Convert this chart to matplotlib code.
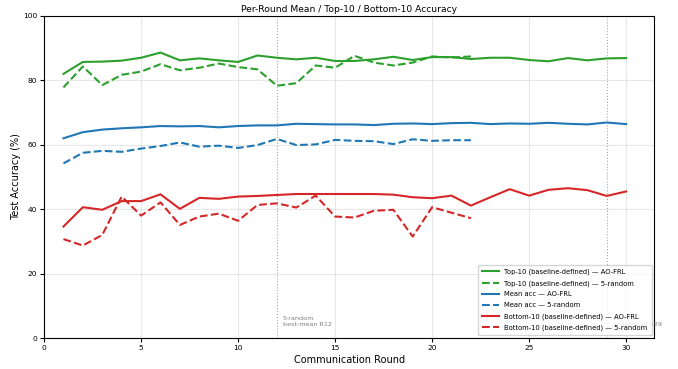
import numpy as np
from matplotlib import pyplot as plt

# per-round accuracies
rounds_aofrl = np.arange(1, 31)
rounds_rand = np.arange(1, 23)

top10_aofrl = [82.0, 85.7, 85.8, 86.1, 87.0, 88.6, 86.2, 86.8, 86.2, 85.7,
               87.7, 87.0, 86.5, 87.0, 86.0, 86.0, 86.5, 87.3, 86.3, 87.2,
               87.2, 86.6, 87.0, 87.0, 86.3, 85.9, 86.9, 86.2, 86.8, 86.9]
top10_rand = [77.8, 84.3, 78.5, 81.7, 82.7, 85.0, 83.1, 83.9, 85.2, 84.1,
              83.4, 78.3, 79.1, 84.6, 83.9, 87.6, 85.5, 84.6, 85.5, 87.4,
              87.1, 87.4]
mean_aofrl = [62.0, 63.9, 64.7, 65.1, 65.4, 65.8, 65.7, 65.8, 65.4, 65.8,
              66.0, 66.0, 66.5, 66.4, 66.3, 66.3, 66.1, 66.5, 66.6, 66.4,
              66.7, 66.8, 66.4, 66.6, 66.5, 66.8, 66.5, 66.3, 66.9, 66.4]
mean_rand = [54.2, 57.5, 58.1, 57.8, 58.8, 59.6, 60.7, 59.4, 59.7, 59.0,
             59.9, 61.8, 59.9, 60.1, 61.5, 61.2, 61.1, 60.2, 61.7, 61.2,
             61.4, 61.4]
bottom10_aofrl = [34.6, 40.6, 39.8, 42.5, 42.5, 44.6, 40.1, 43.5, 43.2, 43.9,
                  44.1, 44.4, 44.7, 44.7, 44.7, 44.7, 44.7, 44.5, 43.7, 43.4,
                  44.2, 41.1, 43.7, 46.2, 44.2, 46.0, 46.5, 45.9, 44.1, 45.5]
bottom10_rand = [30.7, 28.7, 32.0, 43.9, 38.0, 42.1, 35.1, 37.7, 38.6, 36.4,
                 41.3, 41.8, 40.5, 44.2, 37.7, 37.4, 39.5, 39.8, 31.5, 40.6,
                 38.9, 37.2]

best_rand = 12
best_aofrl = 29

fig = plt.figure(figsize=(6.78, 3.69), dpi=100)
ax = fig.add_axes([0.065, 0.084, 0.9, 0.873])

ax.plot(rounds_aofrl, top10_aofrl, color='tab:green', lw=1.5, label='Top-10 (baseline-defined) — AO-FRL')
ax.plot(rounds_rand, top10_rand, color='tab:green', lw=1.5, ls='--', label='Top-10 (baseline-defined) — 5-random')
ax.plot(rounds_aofrl, mean_aofrl, color='tab:blue', lw=1.5, label='Mean acc — AO-FRL')
ax.plot(rounds_rand, mean_rand, color='tab:blue', lw=1.5, ls='--', label='Mean acc — 5-random')
ax.plot(rounds_aofrl, bottom10_aofrl, color='tab:red', lw=1.5, label='Bottom-10 (baseline-defined) — AO-FRL')
ax.plot(rounds_rand, bottom10_rand, color='tab:red', lw=1.5, ls='--', label='Bottom-10 (baseline-defined) — 5-random')

# best-mean markers
ax.axvline(best_rand, color='gray', ls=':', lw=0.8, alpha=0.7)
ax.axvline(best_aofrl, color='gray', ls=':', lw=0.8, alpha=0.7)
ax.text(best_rand + 0.3, 3.5, '5-random\nbest-mean R%d' % best_rand, fontsize=4.6, color='gray', va='bottom')
ax.text(best_aofrl + 0.3, 3.5, 'AO-FRL\nbest-mean R%d' % best_aofrl, fontsize=4.6, color='gray', va='bottom')

ax.set_xlim(0, 31.45)
ax.set_ylim(0, 100)
ax.set_xticks(np.arange(0, 31, 5))
ax.set_yticks(np.arange(0, 101, 20))
ax.tick_params(labelsize=5.4, length=3, pad=2)
ax.grid(True, alpha=0.3)
ax.set_title('Per-Round Mean / Top-10 / Bottom-10 Accuracy', fontsize=6.6, pad=3)
ax.set_xlabel('Communication Round', fontsize=7, labelpad=3)
ax.set_ylabel('Test Accuracy (%)', fontsize=7, labelpad=1)
leg = ax.legend(loc='lower right', fontsize=4.9, handlelength=2.4, borderpad=0.6,
                labelspacing=0.72, borderaxespad=0.4)
leg.set_zorder(5)

fig.savefig('out.png', dpi=100)
